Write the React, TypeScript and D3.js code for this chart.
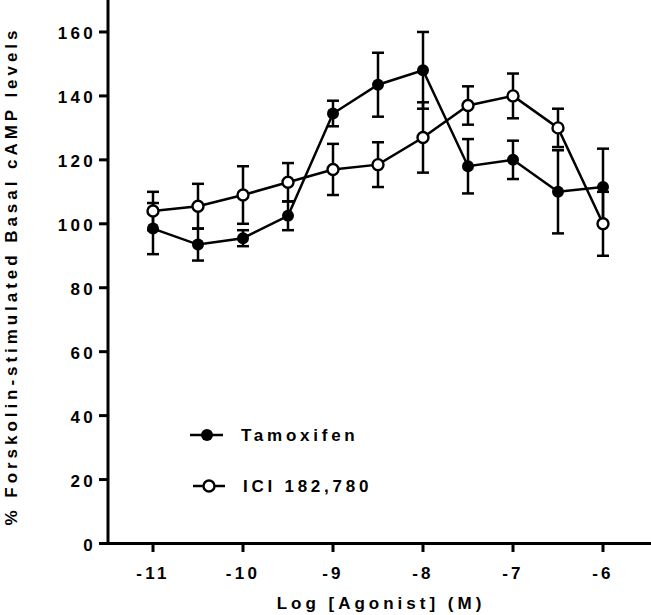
import * as d3 from "d3";
import { useEffect, useRef } from "react";

const logDose = [-11, -10.5, -10, -9.5, -9, -8.5, -8, -7.5, -7, -6.5, -6];
const tamoxifenMean = [98.5, 93.5, 95.5, 102.5, 134.5, 143.5, 148, 118, 120, 110, 111.5];
const tamoxifenSem = [8, 5, 2.5, 4.5, 4, 10, 12, 8.5, 6, 13, 12];
const iciMean = [104, 105.5, 109, 113, 117, 118.5, 127, 137, 140, 130, 100];
const iciSem = [6, 7, 9, 6, 8, 7, 11, 6, 7, 6, 10];
const yTicks = [0, 20, 40, 60, 80, 100, 120, 140, 160];
const xTicks = [-11, -10, -9, -8, -7, -6];

const FONT = "'Liberation Sans', Arial, Helvetica, sans-serif";

const App = () => {
  const chartRef = useRef<SVGSVGElement>(null);
  const width = 651;
  const height = 615;

  useEffect(() => {
    const svg = d3.select(chartRef.current);
    svg.selectAll("*").remove();

    const x = d3.scaleLinear().domain([-11.5, -5.5]).range([108, 648]);
    const y = d3.scaleLinear().domain([0, 170]).range([543.5, 0]);

    // axes lines
    svg.append("line")
      .attr("x1", 108).attr("x2", 108).attr("y1", 0).attr("y2", 545)
      .attr("stroke", "#000").attr("stroke-width", 3);
    svg.append("line")
      .attr("x1", 106.5).attr("x2", width).attr("y1", 543.5).attr("y2", 543.5)
      .attr("stroke", "#000").attr("stroke-width", 3);

    // y ticks
    const yAxis = svg.append("g");
    yTicks.forEach(t => {
      yAxis.append("line")
        .attr("x1", 99).attr("x2", 108).attr("y1", y(t)).attr("y2", y(t))
        .attr("stroke", "#000").attr("stroke-width", 3);
      yAxis.append("text")
        .attr("x", 96).attr("y", y(t) + 7.5)
        .attr("text-anchor", "end")
        .style("font-family", FONT).style("font-weight", "bold")
        .style("font-size", "17px").style("letter-spacing", "3.3px")
        .text(t);
    });

    // x ticks
    const xAxis = svg.append("g");
    xTicks.forEach(t => {
      xAxis.append("line")
        .attr("x1", x(t)).attr("x2", x(t)).attr("y1", 543).attr("y2", 552)
        .attr("stroke", "#000").attr("stroke-width", 3);
      xAxis.append("text")
        .attr("x", x(t)).attr("y", 579)
        .attr("text-anchor", "middle")
        .style("font-family", FONT).style("font-weight", "bold")
        .style("font-size", "17px").style("letter-spacing", "3.3px")
        .text(t);
    });

    // axis titles
    svg.append("text")
      .attr("x", 381).attr("y", 609)
      .attr("text-anchor", "middle")
      .style("font-family", FONT).style("font-weight", "bold")
      .style("font-size", "17px").style("letter-spacing", "4px")
      .text("Log [Agonist] (M)");
    svg.append("text")
      .attr("transform", "translate(17, 276) rotate(-90)")
      .attr("text-anchor", "middle")
      .style("font-family", FONT).style("font-weight", "bold")
      .style("font-size", "17px").style("letter-spacing", "3.95px")
      .text("% Forskolin-stimulated Basal cAMP levels");

    const series = [
      { mean: tamoxifenMean, sem: tamoxifenSem, filled: true },
      { mean: iciMean, sem: iciSem, filled: false },
    ];

    const line = d3.line<number>()
      .x((_, i) => x(logDose[i]))
      .y(d => y(d));

    series.forEach(s => {
      const g = svg.append("g");
      // error bars
      s.mean.forEach((m, i) => {
        const cx = x(logDose[i]);
        const top = y(m + s.sem[i]);
        const bot = y(m - s.sem[i]);
        g.append("line")
          .attr("x1", cx).attr("x2", cx).attr("y1", top).attr("y2", bot)
          .attr("stroke", "#000").attr("stroke-width", 2.5);
        [top, bot].forEach(yy => {
          g.append("line")
            .attr("x1", cx - 6).attr("x2", cx + 6).attr("y1", yy).attr("y2", yy)
            .attr("stroke", "#000").attr("stroke-width", 2.5);
        });
      });
      g.append("path")
        .datum(s.mean)
        .attr("d", line)
        .attr("fill", "none")
        .attr("stroke", "#000")
        .attr("stroke-width", 2.5);
      g.selectAll("circle")
        .data(s.mean)
        .enter()
        .append("circle")
        .attr("cx", (_, i) => x(logDose[i]))
        .attr("cy", d => y(d))
        .attr("r", s.filled ? 6 : 5.5)
        .attr("fill", s.filled ? "#000" : "#fff")
        .attr("stroke", "#000")
        .attr("stroke-width", s.filled ? 0 : 2.4);
    });

    // legend
    const legend = [
      { label: "Tamoxifen", filled: true, x1: 190, x2: 223, cx: 207, ly: 435, tx: 241 },
      { label: "ICI 182,780", filled: false, x1: 193, x2: 225, cx: 209, ly: 486, tx: 243 },
    ];
    legend.forEach(l => {
      svg.append("line")
        .attr("x1", l.x1).attr("x2", l.x2).attr("y1", l.ly).attr("y2", l.ly)
        .attr("stroke", "#000").attr("stroke-width", 2.5);
      svg.append("circle")
        .attr("cx", l.cx).attr("cy", l.ly)
        .attr("r", l.filled ? 6 : 5.5)
        .attr("fill", l.filled ? "#000" : "#fff")
        .attr("stroke", "#000")
        .attr("stroke-width", l.filled ? 0 : 2.4);
      svg.append("text")
        .attr("x", l.tx).attr("y", l.ly + 6)
        .style("font-family", FONT).style("font-weight", "bold")
        .style("font-size", "17px").style("letter-spacing", "3.75px")
        .text(l.label);
    });
  }, []);

  return (
    <svg
      ref={chartRef}
      width={width}
      height={height}
      style={{ position: "absolute", left: 0, top: 0, background: "#fff" }}
    ></svg>
  );
};

export default App;
